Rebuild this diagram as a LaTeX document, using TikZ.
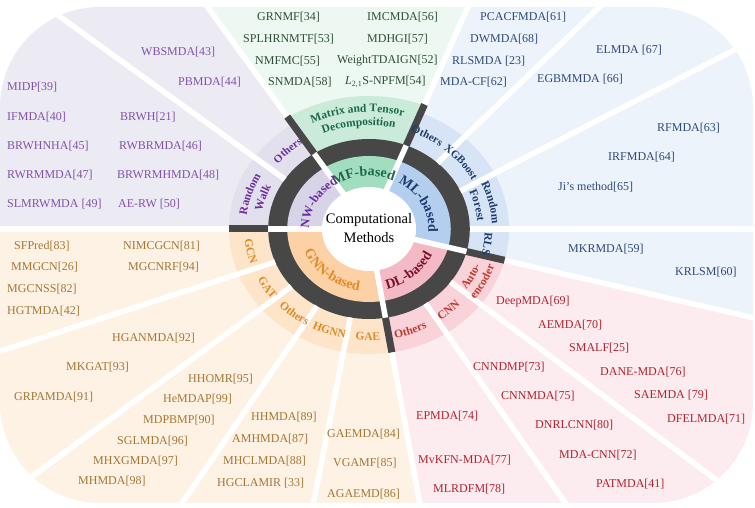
\documentclass[tikz,border=0pt]{standalone}
\usepackage{fontspec}
\setmainfont{Liberation Serif}
\usetikzlibrary{decorations.text}
\definecolor{dk}{HTML}{474747}
\definecolor{nwA}{HTML}{D8D4E7}\definecolor{nwB}{HTML}{E3E0EE}\definecolor{nwC}{HTML}{ECEAF3}
\definecolor{nwT}{HTML}{6B2D9B}\definecolor{nwM}{HTML}{8253AE}
\definecolor{mfA}{HTML}{A3DDBF}\definecolor{mfB}{HTML}{CAEBD9}\definecolor{mfC}{HTML}{EEF8F2}
\definecolor{mfT}{HTML}{1B6A46}\definecolor{mfM}{HTML}{2E4F35}
\definecolor{mlA}{HTML}{B4CEEF}\definecolor{mlB}{HTML}{D6E4F6}\definecolor{mlC}{HTML}{EDF3FB}
\definecolor{mlT}{HTML}{1E3A6E}\definecolor{mlM}{HTML}{2D4A7E}
\definecolor{dlA}{HTML}{F3B9C4}\definecolor{dlB}{HTML}{F9D3D9}\definecolor{dlC}{HTML}{FCECEF}
\definecolor{dlT}{HTML}{7B1228}\definecolor{dlS}{HTML}{C0392F}\definecolor{dlM}{HTML}{B2232E}
\definecolor{gnA}{HTML}{FCD1A5}\definecolor{gnB}{HTML}{FEE4C8}\definecolor{gnC}{HTML}{FEF2E5}
\definecolor{gnT}{HTML}{E38A25}\definecolor{gnM}{HTML}{A67633}
\newcommand\labfont{\fontsize{11.5}{12}\selectfont\bfseries}
\newcommand\smlfont{\fontsize{11}{12}\selectfont\bfseries}
\newcommand\bigfont{\fontsize{14}{14}\selectfont\bfseries}
\newcommand\midfont{\fontsize{12.5}{13}\selectfont\bfseries}
% text along an elliptical arc: center angle, direction (1 cw / (-1) ccw), radius, colour, font, text
\newcommand\arctext[6]{%
  \pgfmathsetmacro\myrx{1.12*#3}%
  \pgfmathsetmacro\mysa{#1+#2*70}%
  \pgfmathsetmacro\myea{#1-#2*70}%
  \path[decorate,decoration={text along path,text align=center,text color=#4,text={|#5|#6}}]
    (\mysa:\myrx pt and #3pt) arc[start angle=\mysa,end angle=\myea,x radius=\myrx pt,y radius=#3pt];}
\newcommand\wdg[3]{(0,0) -- (#1:1120pt and 1000pt) -- (#2:1120pt and 1000pt) -- (#3:1120pt and 1000pt) -- cycle}
\newcommand\myray[4]{%
  \pgfmathsetmacro\myri{1.12*#2}\pgfmathsetmacro\myro{1.12*#3}%
  \draw[#4] (#1:\myri pt and #2pt) -- (#1:\myro pt and #3pt);}
% separator from inner angle (at ring) to outer angle (far away)
\newcommand\sepline[2]{\draw[wline] (#1:100.8pt and 90pt) -- (#2:1120pt and 1000pt);}
\tikzset{
  wline/.style={white,line width=5.5pt},
  dbar/.style={dk,line width=7pt},
  mt/.style={font=\fontsize{12}{14}\selectfont,inner sep=0pt,anchor=west},
}
\begin{document}
\begin{tikzpicture}[x=1pt,y=1pt]
\useasboundingbox (0,0) rectangle (755,508);
\begin{scope}
\clip[rounded corners=100pt] (0,5) rectangle (753,501);
\begin{scope}[shift={(369,279)}]
  % regions + outer ring
  \begin{scope}\clip \wdg{123}{151.5}{180};
    \fill[nwC] (-600,-600) rectangle (600,600);
    \fill[nwB] (0,0) ellipse[x radius=140pt,y radius=125pt];\end{scope}
  \begin{scope}\clip \wdg{68.3}{95.65}{123};
    \fill[mfC] (-600,-600) rectangle (600,600);
    \fill[mfB] (0,0) ellipse[x radius=148.96pt,y radius=133pt];\end{scope}
  \begin{scope}\clip \wdg{-14.5}{26.9}{68.3};
    \fill[mlC] (-600,-600) rectangle (600,600);
    \fill[mlB] (0,0) ellipse[x radius=140pt,y radius=125pt];\end{scope}
  \begin{scope}\clip \wdg{-80.6}{-47.55}{-14.5};
    \fill[dlC] (-600,-600) rectangle (600,600);
    \fill[dlB] (0,0) ellipse[x radius=140pt,y radius=125pt];\end{scope}
  \begin{scope}\clip \wdg{-180}{-130.3}{-80.6};
    \fill[gnC] (-600,-600) rectangle (600,600);
    \fill[gnB] (0,0) ellipse[x radius=140pt,y radius=125pt];\end{scope}
  % dark ring
  \fill[dk] (0,0) ellipse[x radius=100.8pt,y radius=90pt];
  % inner bands
  \begin{scope}\clip \wdg{123}{151.5}{180};\fill[nwA] (0,0) ellipse[x radius=81.76pt,y radius=73pt];\end{scope}
  \begin{scope}\clip \wdg{68.3}{95.65}{123};\fill[mfA] (0,0) ellipse[x radius=81.76pt,y radius=73pt];\end{scope}
  \begin{scope}\clip \wdg{-14.5}{26.9}{68.3};\fill[mlA] (0,0) ellipse[x radius=81.76pt,y radius=73pt];\end{scope}
  \begin{scope}\clip \wdg{-80.6}{-47.55}{-14.5};\fill[dlA] (0,0) ellipse[x radius=81.76pt,y radius=73pt];\end{scope}
  \begin{scope}\clip \wdg{-180}{-130.3}{-80.6};\fill[gnA] (0,0) ellipse[x radius=81.76pt,y radius=73pt];\end{scope}
  \fill[white] (0,0) ellipse[x radius=47.04pt,y radius=42pt];
  % minor separators
  \sepline{146.5}{141.5}
  \sepline{47.2}{47.2}
  \sepline{25}{29.5}
  \sepline{0}{0}
  \sepline{-36}{-39.5}
  \sepline{-55.8}{-57.8}
  \sepline{-100.7}{-100.1}
  \sepline{-121.07}{-121.4}
  \sepline{-140.4}{-140.6}
  \sepline{-158.5}{-159.9}
  % major separators
  \foreach \a in {180,123,68.3,-14.5,-80.6}{\myray{\a}{0}{1000}{wline}}
  \myray{123}{90}{134}{dbar}
  \myray{68.3}{90}{134}{dbar}
  \myray{180}{90}{125}{dbar}
  \myray{-14.5}{90}{125}{dbar}
  \myray{-80.6}{90}{125}{dbar}
  % inner labels
  \arctext{95.65}{1}{53}{mfT}{\bigfont}{MF-based}
  \arctext{26.9}{1}{53}{mlT}{\bigfont}{ML-based}
  \arctext{152}{1}{53.5}{nwT}{\midfont}{NW-based}
  \arctext{-47.55}{(-1)}{62}{dlT}{\bigfont}{DL-based}
  \arctext{-130.3}{(-1)}{62}{gnT}{\bigfont}{GNN-based}
  % ring labels
  \arctext{135.8}{1}{104}{nwT}{\smlfont}{Others}
  \arctext{163.5}{1}{110}{nwT}{\labfont}{Random}
  \arctext{163.5}{1}{97}{nwT}{\labfont}{Walk}
  \arctext{95.65}{1}{117}{mfT}{\labfont}{Matrix and Tensor}
  \arctext{95.65}{1}{103.5}{mfT}{\labfont}{Decomposition}
  \arctext{58.3}{1}{104}{mlT}{\smlfont}{Others}
  \arctext{36.3}{1}{104}{mlT}{\smlfont}{XGBoost}
  \arctext{12.5}{1}{110}{mlT}{\labfont}{Random}
  \arctext{12.5}{1}{97}{mlT}{\labfont}{Forest}
  \arctext{-7.25}{1}{103.5}{mlT}{\labfont}{RLS}
  \arctext{-25.3}{(-1)}{106}{dlS}{\labfont}{Auto-}
  \arctext{-25.3}{(-1)}{118}{dlS}{\labfont}{encoder}
  \arctext{-46.3}{(-1)}{111.5}{dlS}{\labfont}{CNN}
  \arctext{-68.2}{(-1)}{111.5}{dlS}{\labfont}{Others}
  \arctext{-90.6}{(-1)}{111.5}{gnT}{\labfont}{GAE}
  \arctext{-110.9}{(-1)}{111.5}{gnT}{\labfont}{HGNN}
  \arctext{-130.8}{(-1)}{111.5}{gnT}{\labfont}{Others}
  \arctext{-149.5}{(-1)}{111.5}{gnT}{\labfont}{GAT}
  \arctext{-169.3}{(-1)}{111.5}{gnT}{\labfont}{GCN}
\end{scope}
\end{scope}
% texts in image coordinates
\begin{scope}[shift={(0,508)},yscale=-1]
\node[font=\fontsize{14.5}{19}\selectfont,align=center,inner sep=0pt] (cm) at (369,228) {Computational\\Methods};
% NW
\node[mt,text=nwM] (n43) at (141,52) {WBSMDA[43]};
\node[mt,text=nwM] (n44) at (178,82) {PBMDA[44]};
\node[mt,text=nwM] (n39) at (7,87) {MIDP[39]};
\node[mt,text=nwM] (n40) at (7,117) {IFMDA[40]};
\node[mt,text=nwM] (n45) at (7,146) {BRWHNHA[45]};
\node[mt,text=nwM] (n47) at (7,175) {RWRMMDA[47]};
\node[mt,text=nwM] (n49) at (7,204) {SLMRWMDA [49]};
\node[mt,text=nwM] (n21) at (120,117) {BRWH[21]};
\node[mt,text=nwM] (n46) at (119,146) {RWBRMDA[46]};
\node[mt,text=nwM] (n48) at (117,175) {BRWRMHMDA[48]};
\node[mt,text=nwM] (n50) at (118,204) {AE-RW [50]};
% MF
\node[mt,text=mfM] (n34) at (257,17) {GRNMF[34]};
\node[mt,text=mfM] (n56) at (367,17) {IMCMDA[56]};
\node[mt,text=mfM] (n53) at (243,39) {SPLHRNMTF[53]};
\node[mt,text=mfM] (n57) at (367,39) {MDHGI[57]};
\node[mt,text=mfM] (n55) at (255,61) {NMFMC[55]};
\node[mt,text=mfM] (n52) at (337,61) {WeightTDAIGN[52]};
\node[mt,text=mfM] (n58) at (268,82) {SNMDA[58]};
\node[mt,text=mfM] (n54) at (345,82) {\textit{L}\textsubscript{2,1}S-NPFM[54]};
% ML
\node[mt,text=mlM] (n61) at (480,17) {PCACFMDA[61]};
\node[mt,text=mlM] (n68) at (470,39) {DWMDA[68]};
\node[mt,text=mlM] (n23) at (452,61) {RLSMDA [23]};
\node[mt,text=mlM] (n62) at (440,82) {MDA-CF[62]};
\node[mt,text=mlM] (n67) at (596,50) {ELMDA [67]};
\node[mt,text=mlM] (n66) at (537,79) {EGBMMDA [66]};
\node[mt,text=mlM] (n63) at (657,128) {RFMDA[63]};
\node[mt,text=mlM] (n64) at (608,157) {IRFMDA[64]};
\node[mt,text=mlM] (n65) at (558,187) {Ji’s method[65]};
\node[mt,text=mlM] (n59) at (568,249) {MKRMDA[59]};
\node[mt,text=mlM] (n60) at (675,272) {KRLSM[60]};
% DL
\node[mt,text=dlM] (n69) at (496,302) {DeepMDA[69]};
\node[mt,text=dlM] (n70) at (538,325) {AEMDA[70]};
\node[mt,text=dlM] (n25) at (569,348) {SMALF[25]};
\node[mt,text=dlM] (n76) at (600,372) {DANE-MDA[76]};
\node[mt,text=dlM] (n79) at (634,395) {SAEMDA [79]};
\node[mt,text=dlM] (n71) at (667,419) {DFELMDA[71]};
\node[mt,text=dlM] (n73) at (473,367) {CNNDMP[73]};
\node[mt,text=dlM] (n75) at (501,396) {CNNMDA[75]};
\node[mt,text=dlM] (n80) at (535,425) {DNRLCNN[80]};
\node[mt,text=dlM] (n72) at (559,455) {MDA-CNN[72]};
\node[mt,text=dlM] (n41) at (596,484) {PATMDA[41]};
\node[mt,text=dlM] (n74) at (416,416) {EPMDA[74]};
\node[mt,text=dlM] (n77) at (418,460) {MvKFN-MDA[77]};
\node[mt,text=dlM] (n78) at (433,489) {MLRDFM[78]};
% GNN
\node[mt,text=gnM] (n84) at (327,434) {GAEMDA[84]};
\node[mt,text=gnM] (n85) at (333,463) {VGAMF[85]};
\node[mt,text=gnM] (n86) at (327,494) {AGAEMD[86]};
\node[mt,text=gnM] (n89) at (251,417) {HHMDA[89]};
\node[mt,text=gnM] (n87) at (232,439) {AMHMDA[87]};
\node[mt,text=gnM] (n88) at (223,461) {MHCLMDA[88]};
\node[mt,text=gnM] (n33) at (217,483) {HGCLAMIR [33]};
\node[mt,text=gnM] (n95) at (188,379) {HHOMR[95]};
\node[mt,text=gnM] (n99) at (163,399) {HeMDAP[99]};
\node[mt,text=gnM] (n90) at (143,420) {MDPBMP[90]};
\node[mt,text=gnM] (n96) at (117,441) {SGLMDA[96]};
\node[mt,text=gnM] (n97) at (93,461) {MHXGMDA[97]};
\node[mt,text=gnM] (n98) at (78,481) {MHMDA[98]};
\node[mt,text=gnM] (n92) at (112,338) {HGANMDA[92]};
\node[mt,text=gnM] (n93) at (66,367) {MKGAT[93]};
\node[mt,text=gnM] (n91) at (14,397) {GRPAMDA[91]};
\node[mt,text=gnM] (n83) at (14,246) {SFPred[83]};
\node[mt,text=gnM] (n81) at (123,246) {NIMCGCN[81]};
\node[mt,text=gnM] (n26) at (11,267) {MMGCN[26]};
\node[mt,text=gnM] (n94) at (128,267) {MGCNRF[94]};
\node[mt,text=gnM] (n82) at (7,289) {MGCNSS[82]};
\node[mt,text=gnM] (n42) at (7,311) {HGTMDA[42]};
\end{scope}
\end{tikzpicture}
\end{document}
